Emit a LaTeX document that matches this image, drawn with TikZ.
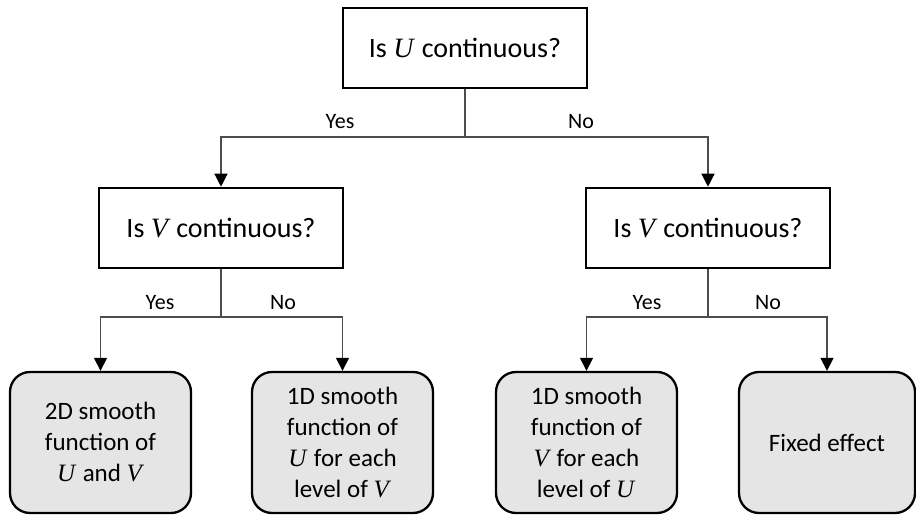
\documentclass[tikz,border=0pt]{standalone}
\usepackage{fontspec}
\setmainfont{Carlito}
\newfontfamily\mvarfont{Liberation Serif}
\newcommand{\mv}[1]{{\mvarfont\itshape #1\kern2pt}}
\usetikzlibrary{arrows.meta}
\begin{document}
\begin{tikzpicture}[x=1pt,y=-1pt,
  qbox/.style={draw=black,line width=2.6pt,minimum width=244pt,minimum height=80pt,inner sep=0pt,font=\fontsize{28}{32}\selectfont},
  leaf/.style={draw=black,line width=2.3pt,fill=black!10,rounded corners=20pt,minimum width=181pt,minimum height=141pt,inner sep=0pt,align=center,font=\fontsize{25}{31}\selectfont},
  conn/.style={draw=black!70,line width=1.3pt},
  arr/.style={conn,-{Triangle[width=13pt,length=13pt,color=black]}},
  lab/.style={font=\fontsize{22}{26}\selectfont,inner sep=0pt}]
\useasboundingbox (0,0) rectangle (916,516);
\node[qbox] (tq) at (465,48) {Is \mv{U} continuous?};
\node[qbox] (lm) at (221,228) {Is \mv{V} continuous?};
\node[qbox] (rm) at (708,228) {Is \mv{V} continuous?};
\node[leaf] (l1) at (100.5,442.5) {2D smooth\\function of\\\mv{U} and \mv{V}};
\node[leaf] (l2) at (342.5,442.5) {1D smooth\\function of\\\mv{U} for each\\level of \mv{V}};
\node[leaf] (l3) at (586.5,442.5) {1D smooth\\function of\\\mv{V} for each\\level of \mv{U}};
\node[leaf,minimum width=176pt] (l4) at (827,442.5) {Fixed effect};
\coordinate (j0) at (465,137);
\coordinate (j1) at (221,317);
\coordinate (j2) at (708,317);
\draw[conn] (tq) -- (j0);
\draw[arr] (j0) -| (lm);
\draw[arr] (j0) -| (rm);
\draw[conn] (lm) -- (j1);
\draw[arr] (j1) -| (l1);
\draw[arr] (j1) -| (l2);
\draw[conn] (rm) -- (j2);
\draw[arr] (j2) -| (l3);
\draw[arr] (j2) -| (l4);
\node[lab] (y0) at (340,122) {Yes};
\node[lab] (n0) at (581,122) {No};
\node[lab] (y1) at (160,303) {Yes};
\node[lab] (n1) at (283,303) {No};
\node[lab] (y2) at (647,303) {Yes};
\node[lab] (n2) at (768,303) {No};
\end{tikzpicture}
\end{document}
